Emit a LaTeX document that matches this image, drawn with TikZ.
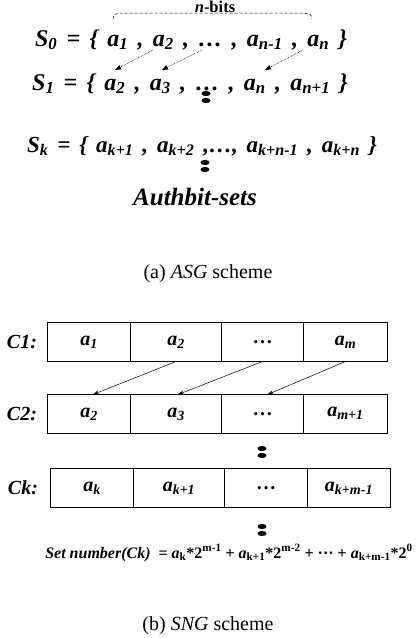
\documentclass[tikz,border=0pt]{standalone}
\usepackage{fontspec}
\setmainfont{Liberation Serif}
\newfontfamily\wideserif{Liberation Serif}[WordSpace=1.55]
\usetikzlibrary{arrows.meta,positioning}

\newcommand{\bitof}[1]{\textit{a}\textsubscript{#1}}

\begin{document}
\begin{tikzpicture}[x=1pt,y=-1pt,
    setline/.style={font=\wideserif\fontsize{24}{26}\selectfont\bfseries\itshape,inner sep=0pt},
    cell/.style={draw,line width=0.7pt,minimum height=39pt,inner sep=0pt,outer sep=0pt,
      font=\fontsize{20}{22}\selectfont\bfseries\itshape},
    rowlabel/.style={font=\fontsize{20}{22}\selectfont\bfseries\itshape},
    caption/.style={font=\fontsize{20}{22}\selectfont},
    dotslide/.style={densely dotted,line width=0.6pt,-{Triangle[length=6pt,width=4.5pt]}},
    slide/.style={line width=0.5pt,-{Stealth[length=6pt,width=4pt]}}]
  \useasboundingbox (0,0) rectangle (419,638);

  % (a) ASG scheme
  \node[font=\fontsize{16.5}{18}\selectfont\bfseries,anchor=base] (nbits) at (215,12) {\textit{n}-bits};
  \draw[densely dashed,line width=0.5pt] (113,19) .. controls (114,14) .. (122,13) -- (303,13) .. controls (311,14) .. (312,19);
  \node[setline,anchor=base] (s0) at (191,46) {S\textsubscript{0} = \{ \bitof{1} , \bitof{2} , \ldots\ , \bitof{n-1} , \bitof{n} \}};
  \node[setline,anchor=base] (s1) at (190,90) {S\textsubscript{1} = \{ \bitof{2} , \bitof{3} , \ldots\ , \bitof{n} , \bitof{n+1} \}};
  \node[setline,font=\wideserif\fontsize{23}{25}\selectfont\bfseries\itshape,anchor=base] (sk) at (202,152) {S\textsubscript{k} = \{ \bitof{k+1} , \bitof{k+2} ,\ldots, \bitof{k+n-1} , \bitof{k+n} \}};
  \node[font=\fontsize{25}{26}\selectfont\bfseries\itshape,anchor=base] (authbit) at (195,205) {Authbit-sets};
  \coordinate (f1) at (153,50); \coordinate (t1) at (115,70);
  \coordinate (f2) at (202,50); \coordinate (t2) at (162,70);
  \coordinate (f3) at (303,50); \coordinate (t3) at (265,70);
  \foreach \i in {1,2,3}
    \draw[dotslide] (f\i) -- (t\i);
  \node[caption] (capa) at (208,274) {(a) \textit{ASG} scheme};

  % (b) SNG scheme
  \node[cell,minimum width=83pt] (c1a) at (89,342) {\bitof{1}};
  \node[cell,minimum width=91pt,right=0pt of c1a] (c1b) {\bitof{2}};
  \node[cell,minimum width=82pt,right=0pt of c1b] (c1c) {\textbf{\textup{\ldots}}};
  \node[cell,minimum width=84pt,right=0pt of c1c] (c1d) {\bitof{m}};
  \node[rowlabel,left=7pt of c1a] (l1) {C1:};

  \node[cell,minimum width=83pt] (c2a) at (89,414) {\bitof{2}};
  \node[cell,minimum width=91pt,right=0pt of c2a] (c2b) {\bitof{3}};
  \node[cell,minimum width=82pt,right=0pt of c2b] (c2c) {\textbf{\textup{\ldots}}};
  \node[cell,minimum width=84pt,right=0pt of c2c] (c2d) {\raisebox{4pt}{\bitof{m+1}}};
  \node[rowlabel,left=7pt of c2a] (l2) {C2:};

  \draw[slide] (c1b.south) -- ([xshift=4pt]c2a.north);
  \draw[slide] (c1c.south) -- ([xshift=2pt]c2b.north);
  \draw[slide] (c1d.south) -- ([xshift=5pt]c2c.north);

  \node[cell,minimum width=83pt] (cka) at (92,488) {\bitof{k}};
  \node[cell,minimum width=91pt,right=0pt of cka] (ckb) {\bitof{k+1}};
  \node[cell,minimum width=83pt,right=0pt of ckb] (ckc) {\textbf{\textup{\ldots}}};
  \node[cell,minimum width=83pt,right=0pt of ckc] (ckd) {\bitof{k+m-1}};
  \node[rowlabel,left=9pt of cka] (lk) {Ck:};

  \node[font=\fontsize{16}{18}\selectfont\bfseries] (setnum) at (229,553)
    {\textit{Set number(Ck)}\ \ = \bitof{k}*2\textsuperscript{m-1} + \bitof{k+1}*2\textsuperscript{m-2} + ··· + \bitof{k+m-1}*2\textsuperscript{0}};
  \node[caption] (capb) at (208,626) {(b) \textit{SNG} scheme};

  % vertical dots
  \foreach \x/\y in {206/97,205/166,262/452,262/530} {
    \fill (\x,\y-3.5) ellipse (4.5 and 2.6);
    \fill (\x,\y+3.5) ellipse (4.5 and 2.6);
  }
\end{tikzpicture}
\end{document}
